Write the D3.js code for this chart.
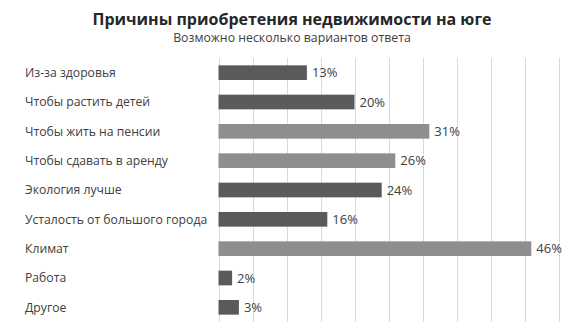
<!DOCTYPE html>
<html>
<head>
<meta charset="utf-8">
<script src="https://cdn.jsdelivr.net/npm/d3@7"></script>
<style>
  html, body { margin: 0; padding: 0; background: #fff; }
  svg text { font-family: "Open Sans", "DejaVu Sans", sans-serif; }
</style>
</head>
<body>
<svg id="chart" width="570" height="335"></svg>
<script>
const categories = [
  "Из-за здоровья",
  "Чтобы растить детей",
  "Чтобы жить на пенсии",
  "Чтобы сдавать в аренду",
  "Экология лучше",
  "Усталость от большого города",
  "Климат",
  "Работа",
  "Другое"
];
const values = [13, 20, 31, 26, 24, 16, 46, 2, 3];
const shades = ["dark", "dark", "light", "light", "dark", "dark", "light", "dark", "dark"];
const gridTicks = [0, 5, 10, 15, 20, 25, 30, 35, 40, 45, 50];

const palette = { dark: "#5a5a5a", light: "#8e8e8e" };

const svg = d3.select("#chart");

const x = d3.scaleLinear().domain([0, 50]).range([218.5, 558.5]);
const y = d3.scaleBand().domain(categories).range([58, 322]).paddingInner(0.5).paddingOuter(0.25);

// vertical gridlines
svg.append("g")
  .selectAll("line")
  .data(gridTicks)
  .join("line")
  .attr("x1", d => Math.round(x(d)) + 0.5)
  .attr("x2", d => Math.round(x(d)) + 0.5)
  .attr("y1", 58)
  .attr("y2", 322)
  .attr("stroke", "#d9d9d9")
  .attr("stroke-width", 1);

// bars
svg.append("g")
  .selectAll("rect")
  .data(values)
  .join("rect")
  .attr("x", x(0))
  .attr("y", (d, i) => y(categories[i]))
  .attr("width", d => x(d) - x(0))
  .attr("height", y.bandwidth())
  .attr("fill", (d, i) => palette[shades[i]]);

// value labels
svg.append("g")
  .selectAll("text")
  .data(values)
  .join("text")
  .attr("x", d => x(d) + 5)
  .attr("y", (d, i) => y(categories[i]) + y.bandwidth() / 2)
  .attr("dy", "0.36em")
  .attr("font-size", 13)
  .attr("fill", "#404040")
  .text(d => d + "%");

// category labels
svg.append("g")
  .selectAll("text")
  .data(categories)
  .join("text")
  .attr("x", 25)
  .attr("y", d => y(d) + y.bandwidth() / 2)
  .attr("dy", "0.35em")
  .attr("font-size", 12.2)
  .attr("fill", "#404040")
  .text(d => d);

// titles
svg.append("text")
  .attr("x", 292)
  .attr("y", 25)
  .attr("text-anchor", "middle")
  .attr("font-size", 16)
  .attr("font-weight", "bold")
  .attr("fill", "#262626")
  .text("Причины приобретения недвижимости на юге");

svg.append("text")
  .attr("x", 292)
  .attr("y", 42)
  .attr("text-anchor", "middle")
  .attr("font-size", 12.3)
  .attr("fill", "#404040")
  .text("Возможно несколько вариантов ответа");
</script>
</body>
</html>
